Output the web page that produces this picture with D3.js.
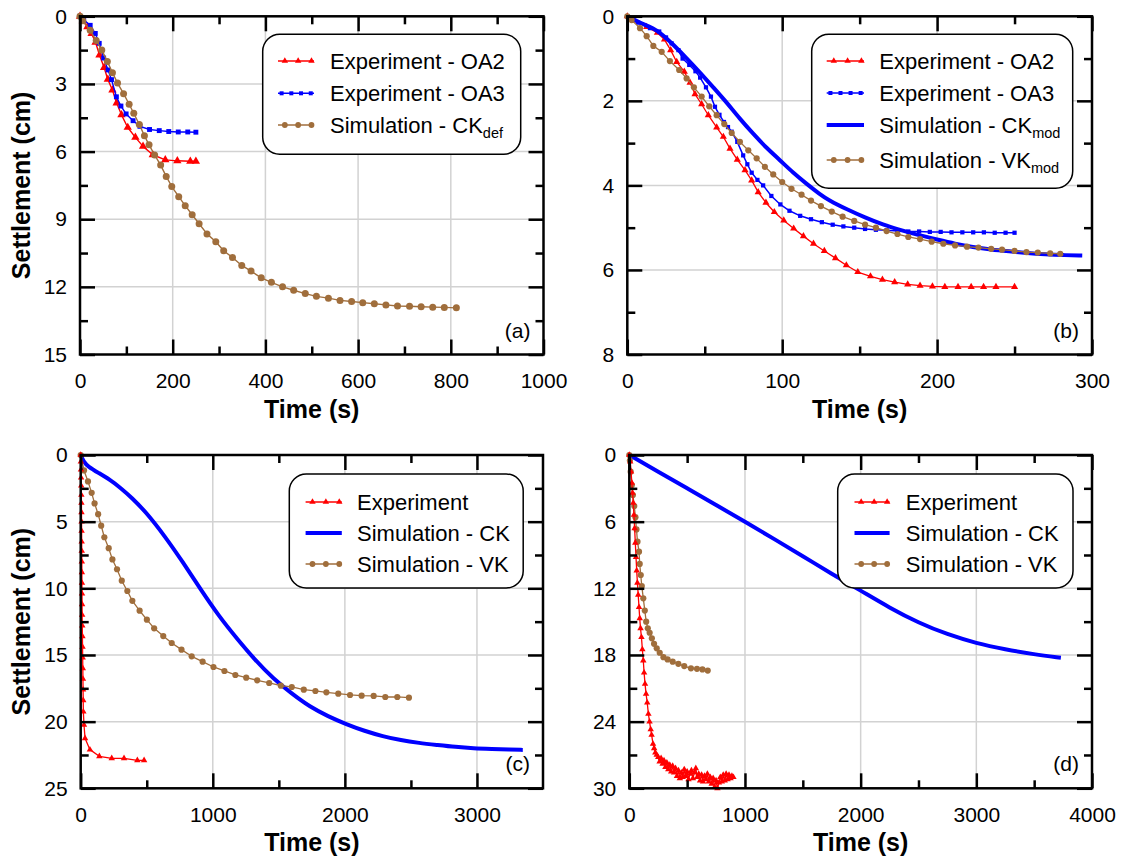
<!DOCTYPE html>
<html><head><meta charset="utf-8">
<script src="https://cdn.jsdelivr.net/npm/d3@7"></script>
<style>body{margin:0;background:#fff}svg{display:block}</style>
</head><body>
<svg id="chart" width="1122" height="859"></svg>
<script>
// ---------------- DATA ----------------
// Panel (a)
const a_OA2 = [[0,0],[6,0.2],[16,0.47],[25,0.77],[33.5,1.15],[42,1.72],[52,2.27],[60,2.8],[70,3.27],[79,3.85],[89.5,4.37],[103,4.93],[119.5,5.37],[136,5.77],[157,6.14],[184,6.37],[210,6.41],[238,6.43],[250,6.43]];
const a_OA3 = [[0,0],[8,0.15],[22,0.4],[33,0.76],[41.5,1.2],[51,1.85],[60.5,2.38],[68,2.81],[78.5,3.57],[88.3,3.98],[99.5,4.33],[114.5,4.63],[129.3,4.88],[150,5.02],[171,5.07],[191.5,5.11],[212,5.13],[232.5,5.13],[250,5.14]];
const a_CKdef = [[0,0],[6,0.2],[22,0.62],[35,1.07],[47,1.5],[59,2.0],[70,2.5],[81,2.96],[94,3.43],[106,3.9],[116,4.3],[128,4.8],[139,5.3],[149,5.7],[161,6.15],[174,6.6],[186,7.1],[198,7.55],[213,8.0],[227,8.4],[242,8.8],[257,9.2],[274,9.65],[293,10.0],[310,10.4],[329,10.7],[349,11.05],[369,11.3],[391,11.6],[413,11.8],[437,12.0],[461,12.15],[486,12.3],[510,12.42],[536,12.5],[561,12.6],[586,12.65],[610,12.7],[635,12.75],[660,12.8],[685,12.85],[711,12.86],[736,12.88],[761,12.9],[786,12.91],[812,12.93]];
// Panel (b)
const b_OA2 = [[0,0],[3.9,0.1],[12.5,0.25],[19.4,0.39],[24,0.55],[28,0.8],[31.9,1.08],[36.8,1.31],[40.5,1.57],[43.7,1.84],[48,2.08],[52.3,2.34],[57.7,2.63],[62,2.85],[66.3,3.13],[71,3.39],[76,3.64],[80.3,3.88],[84.5,4.16],[89.5,4.41],[94.9,4.63],[101,4.83],[107.4,5.02],[113.7,5.2],[120.2,5.38],[127.2,5.55],[134.4,5.72],[141.4,5.89],[148.8,6.05],[157,6.15],[164.7,6.23],[172.6,6.29],[181,6.34],[189,6.37],[197,6.39],[205,6.4],[213.5,6.4],[222,6.4],[230,6.4],[238,6.4],[250,6.4]];
const b_OA3 = [[0,0],[7,0.15],[14.6,0.28],[20.6,0.36],[25,0.5],[28.6,0.64],[33,0.8],[35.7,1.0],[40,1.15],[44,1.3],[47,1.45],[50.8,1.68],[54,1.9],[56.6,2.14],[59.5,2.33],[62.4,2.5],[65,2.62],[67.4,2.73],[71,2.97],[74.8,3.29],[77.5,3.5],[80.3,3.7],[84,3.87],[87.7,4.0],[93,4.25],[98.8,4.45],[104.7,4.6],[111.6,4.72],[118.6,4.8],[125.6,4.87],[132.6,4.93],[139.5,4.97],[146.5,5.0],[153.5,5.03],[160.5,5.05],[167.4,5.06],[174.4,5.08],[181.4,5.09],[188.4,5.09],[195.3,5.1],[202.3,5.1],[209.3,5.11],[216.3,5.11],[223.3,5.11],[230.2,5.11],[237.2,5.12],[244.2,5.12],[250,5.12]];
const b_CKmod = [[0,0],[8,0.15],[16.8,0.28],[23,0.44],[30,0.68],[38,0.98],[47,1.33],[55.5,1.68],[64,2.03],[72.5,2.42],[81.3,2.78],[90,3.12],[98.5,3.4],[107,3.7],[116,3.97],[124,4.2],[130,4.35],[141.9,4.57],[153.5,4.76],[165,4.93],[176.7,5.06],[188.4,5.18],[200,5.28],[211.6,5.38],[223,5.46],[235,5.52],[246.5,5.56],[258,5.6],[270,5.63],[281.4,5.65],[293.7,5.66]];
const b_VKmod = [[0,0],[2.8,0.09],[8.2,0.28],[12.5,0.47],[16.8,0.7],[22.2,0.84],[27.5,1.06],[33.5,1.27],[38.3,1.47],[43,1.68],[48,1.9],[52.9,2.13],[57.7,2.34],[62.6,2.55],[67.4,2.76],[72.7,2.97],[78.1,3.17],[83.5,3.36],[88.8,3.56],[94.2,3.74],[100,3.92],[106,4.08],[112.5,4.22],[118.6,4.36],[125,4.49],[132,4.62],[139,4.74],[146.5,4.84],[153.5,4.93],[160.5,5.0],[167.4,5.08],[174.4,5.15],[181.4,5.22],[189,5.27],[196.5,5.33],[204,5.38],[211.6,5.42],[219.3,5.45],[226.7,5.47],[234.9,5.5],[241.9,5.52],[250,5.55],[257.7,5.58],[265,5.59],[273,5.61],[279.5,5.62]];
// Panel (c)
const c_Exp = [[0,0],[1,0.5],[2,1.1],[3,1.7],[4,2.3],[5,3.0],[5.5,3.6],[6,4.3],[6.5,5.0],[7,5.7],[7.5,6.5],[8,7.2],[8.5,8.0],[9,8.8],[9.5,9.6],[10,10.4],[10.5,11.2],[11,12.0],[12,12.8],[13,13.6],[14,14.4],[15,15.2],[16,16.0],[17,16.8],[18,17.6],[19,18.4],[20,19.25],[25,20.25],[33,21.25],[70,22.1],[141,22.6],[235,22.75],[328,22.75],[429,22.9],[480,22.9]];
const c_CK = [[0,0],[22,0.5],[55,0.86],[138,1.36],[220,1.85],[303,2.47],[386,3.2],[496,4.3],[634,6.05],[771,8.0],[909,10.1],[1047,12.1],[1185,13.8],[1322,15.4],[1460,16.8],[1598,17.9],[1736,18.9],[1873,19.6],[2011,20.2],[2149,20.7],[2287,21.1],[2424,21.4],[2562,21.6],[2700,21.75],[2837,21.9],[2975,22.0],[3113,22.05],[3251,22.1],[3347,22.12]];
const c_VK = [[0,0],[25,1.16],[55,1.98],[83,2.84],[105,3.63],[132,4.44],[155,5.3],[179,6.17],[212,6.99],[240,7.83],[275,8.57],[311,9.43],[353,10.2],[391,10.94],[446,11.68],[501,12.35],[556,13.0],[625,13.58],[689,14.1],[763,14.6],[840,15.1],[923,15.5],[1005,15.9],[1088,16.2],[1171,16.5],[1253,16.7],[1336,16.9],[1427,17.1],[1515,17.3],[1598,17.4],[1689,17.6],[1777,17.7],[1860,17.8],[1950,17.9],[2039,18.0],[2127,18.05],[2218,18.07],[2306,18.15],[2397,18.15],[2485,18.2]];
// Panel (d)
const d_Exp = [[0,0],[8,0.6],[15,1.5],[22,2.5],[28,3.4],[34,4.3],[40,5.4],[46,6.6],[52,7.9],[58,9.2],[64,10.4],[70,11.5],[77,12.6],[84,13.7],[90,14.7],[97,15.6],[105,16.4],[113,17.5],[121,18.5],[128,19.6],[136,20.6],[145,21.5],[155,22.3],[165,23.3],[175,24.0],[185,24.7],[193,25.2],[205,26.0],[215,26.4],[225,26.8],[237,27.0],[250,27.2],[262,27.6],[275,27.3],[288,27.8],[300,27.5],[312,28.1],[325,27.7],[337,28.3],[350,27.9],[362,28.5],[375,28.0],[387,28.6],[400,28.2],[412,28.9],[425,28.4],[437,29.1],[450,28.6],[462,29.0],[475,28.3],[487,28.9],[500,28.5],[512,29.2],[525,28.7],[537,28.4],[550,29.1],[562,28.6],[575,28.2],[587,29.0],[600,28.7],[612,29.3],[625,28.8],[637,29.4],[650,28.9],[662,29.2],[675,28.7],[687,29.4],[700,29.0],[712,29.6],[725,29.1],[737,29.9],[750,29.3],[762,30.0],[775,29.5],[787,29.0],[800,29.4],[812,28.8],[825,29.3],[837,28.7],[850,29.2],[862,28.8],[875,29.1],[887,28.9],[900,29.0]];
const d_CK = [[0,0],[250,1.5],[500,3.0],[750,4.5],[1000,6.0],[1250,7.55],[1500,9.1],[1750,10.7],[2000,12.2],[2250,13.75],[2500,15.1],[2750,16.15],[3000,16.95],[3250,17.5],[3500,17.95],[3731,18.25]];
const d_VK = [[0,0],[5,0.5],[12,1.5],[22,2.7],[31,3.6],[43,4.6],[53,5.6],[62,6.7],[71,7.8],[84,8.7],[90,9.8],[99,10.8],[108,11.8],[121,12.9],[134,14.0],[146,15.0],[160,15.6],[176,16.0],[195,16.5],[214,17.0],[237,17.4],[263,17.8],[295,18.2],[331,18.4],[375,18.6],[424,18.8],[475,19.0],[533,19.2],[585,19.25],[632,19.3],[678,19.4]];

// Tick values
const aXTicks = [0,200,400,600,800,1000], aXMinor = [100,300,500,700,900];
const aYTicks = [0,3,6,9,12,15], aYMinor = [1.5,4.5,7.5,10.5,13.5];
const bXTicks = [0,100,200,300], bXMinor = [50,150,250];
const bYTicks = [0,2,4,6,8], bYMinor = [1,3,5,7];
const cXTicks = [0,1000,2000,3000], cXMinor = [500,1500,2500];
const cYTicks = [0,5,10,15,20,25], cYMinor = [2.5,7.5,12.5,17.5,22.5];
const dXTicks = [0,1000,2000,3000,4000], dXMinor = [500,1500,2500,3500];
const dYTicks = [0,6,12,18,24,30], dYMinor = [3,9,15,21,27];

// ---------------- STYLE ----------------
const RED = '#ff0000', BLUE = '#0000ff', BROWN = '#a06e3c';
const FONT = 'Arial, "Liberation Sans", sans-serif';
const svg = d3.select('#chart');

const panels = [
  { tag:'(a)', left:80, right:543.5, top:16.3, bottom:354.5, xDom:[0,1000], yDom:[0,15],
    xT:aXTicks, xM:aXMinor, yT:aYTicks, yM:aYMinor, ytitle:true,
    series:[
      {data:a_OA2, color:RED, mk:'tri', ms:30, lw:1.4},
      {data:a_OA3, color:BLUE, mk:'sq', ms:24, lw:1.4},
      {data:a_CKdef, color:BROWN, mk:'circ', ms:3.5, lw:1.4}
    ],
    legend:{box:[262.7,34.3,520.7,154.3], rows:[61,93.3,125], lx:[278,314], tx:330,
      items:[{s:0,t:'Experiment - OA2'},{s:1,t:'Experiment - OA3'},{s:2,t:'Simulation - CK',sub:'def'}]}
  },
  { tag:'(b)', left:627.3, right:1092, top:16.3, bottom:354.5, xDom:[0,300], yDom:[0,8],
    xT:bXTicks, xM:bXMinor, yT:bYTicks, yM:bYMinor, ytitle:false,
    series:[
      {data:b_OA2, color:RED, mk:'tri', ms:22, lw:1.3},
      {data:b_OA3, color:BLUE, mk:'sq', ms:18, lw:1.5},
      {data:b_CKmod, color:BLUE, mk:null, lw:4, smooth:true},
      {data:b_VKmod, color:BROWN, mk:'circ', ms:3.1, lw:1.3}
    ],
    legend:{box:[811.7,34.3,1072.7,188.3], rows:[61,93,125,160], lx:[826.7,864], tx:879.3,
      items:[{s:0,t:'Experiment - OA2'},{s:1,t:'Experiment - OA3'},{s:2,t:'Simulation - CK',sub:'mod'},{s:3,t:'Simulation - VK',sub:'mod'}]}
  },
  { tag:'(c)', left:80.7, right:543, top:455, bottom:788.3, xDom:[0,3500], yDom:[0,25],
    xT:cXTicks, xM:cXMinor, yT:cYTicks, yM:cYMinor, ytitle:true,
    series:[
      {data:c_CK, color:BLUE, mk:null, lw:4, smooth:true},
      {data:c_VK, color:BROWN, mk:'circ', ms:3.1, lw:1.3},
      {data:c_Exp, color:RED, mk:'tri', ms:18, lw:1.3}
    ],
    legend:{box:[289.3,474,523.2,588], rows:[502,533,564], lx:[305.6,341.8], tx:357,
      items:[{s:2,t:'Experiment'},{s:0,t:'Simulation - CK'},{s:1,t:'Simulation - VK'}]}
  },
  { tag:'(d)', left:629.3, right:1092, top:455, bottom:788.3, xDom:[0,4000], yDom:[0,30],
    xT:dXTicks, xM:dXMinor, yT:dYTicks, yM:dYMinor, ytitle:false,
    series:[
      {data:d_CK, color:BLUE, mk:null, lw:4, smooth:true},
      {data:d_VK, color:BROWN, mk:'circ', ms:3.1, lw:1.3},
      {data:d_Exp, color:RED, mk:'tri', ms:18, lw:1.3}
    ],
    legend:{box:[837.7,474,1073,588], rows:[502,533,564], lx:[854.5,889.6], tx:905.8,
      items:[{s:2,t:'Experiment'},{s:0,t:'Simulation - CK'},{s:1,t:'Simulation - VK'}]}
  }
];

function marker(g, s, pts, color, size){
  if (s.mk === 'circ') {
    g.selectAll(null).data(pts).join('circle')
      .attr('cx', d => d[0]).attr('cy', d => d[1]).attr('r', size).attr('fill', color);
  } else {
    const sym = d3.symbol().type(s.mk === 'tri' ? d3.symbolTriangle : d3.symbolSquare).size(size)();
    g.selectAll(null).data(pts).join('path')
      .attr('transform', d => `translate(${d[0]},${d[1]})`).attr('d', sym).attr('fill', color);
  }
}

panels.forEach(p => {
  const x = d3.scaleLinear().domain(p.xDom).range([p.left, p.right]);
  const y = d3.scaleLinear().domain(p.yDom).range([p.top, p.bottom]);
  const g = svg.append('g');

  // grid
  g.selectAll(null).data(p.xT.filter(v => v > p.xDom[0] && v < p.xDom[1])).join('line')
    .attr('x1', d => x(d)).attr('x2', d => x(d)).attr('y1', p.top).attr('y2', p.bottom)
    .attr('stroke', '#d2d2d2').attr('stroke-width', 1.5);
  g.selectAll(null).data(p.yT.filter(v => v > p.yDom[0] && v < p.yDom[1])).join('line')
    .attr('y1', d => y(d)).attr('y2', d => y(d)).attr('x1', p.left).attr('x2', p.right)
    .attr('stroke', '#d2d2d2').attr('stroke-width', 1.5);

  // series
  p.series.forEach(s => {
    const line = d3.line().x(d => x(d[0])).y(d => y(d[1]))
      .curve(s.smooth ? d3.curveBasis : d3.curveLinear);
    g.append('path').attr('d', line(s.data)).attr('fill', 'none')
      .attr('stroke', s.color).attr('stroke-width', s.lw).attr('stroke-linejoin', 'round');
    if (s.mk) marker(g, s, s.data.map(d => [x(d[0]), y(d[1])]), s.color, s.ms);
  });

  // legend
  const L = p.legend;
  g.append('rect').attr('x', L.box[0]).attr('y', L.box[1])
    .attr('width', L.box[2] - L.box[0]).attr('height', L.box[3] - L.box[1])
    .attr('rx', 17).attr('ry', 17).attr('fill', '#fff').attr('stroke', '#000').attr('stroke-width', 1.5);
  L.items.forEach((it, i) => {
    const s = p.series[it.s], ry = L.rows[i];
    g.append('line').attr('x1', L.lx[0]).attr('x2', L.lx[1]).attr('y1', ry).attr('y2', ry)
      .attr('stroke', s.color).attr('stroke-width', s.mk ? 1.4 : 4);
    if (s.mk) {
      const w = L.lx[1] - L.lx[0];
      const fr = s.mk === 'sq' ? [0.1, 0.37, 0.64, 0.91] : [0.19, 0.56, 0.93];
      const sz = s.mk === 'circ' ? 2.9 : (s.mk === 'sq' ? 16 : 18);
      marker(g, s, fr.map(f => [L.lx[0] + f * w, ry]), s.color, sz);
    }
    const t = g.append('text').attr('x', L.tx).attr('y', ry + 7.8)
      .attr('font-family', FONT).attr('font-size', 22).attr('fill', '#000').text(it.t);
    if (it.sub) t.append('tspan').attr('font-size', 14.5).attr('dy', 5).text(it.sub);
  });

  // axes (ticks inward, all four sides)
  const axG = (axis, tr) => {
    const a = g.append('g').attr('transform', tr).call(axis);
    a.select('.domain').remove();
    a.selectAll('line').attr('stroke', '#000').attr('stroke-width', 2.5);
    a.selectAll('text').attr('font-family', FONT).attr('font-size', 21).attr('fill', '#000');
    return a;
  };
  axG(d3.axisBottom(x).tickValues(p.xT).tickSize(-15).tickPadding(19).tickFormat(d3.format('d')), `translate(0,${p.bottom})`);
  axG(d3.axisBottom(x).tickValues(p.xM).tickSize(-8).tickFormat(''), `translate(0,${p.bottom})`);
  axG(d3.axisTop(x).tickValues(p.xT).tickSize(-15).tickFormat(''), `translate(0,${p.top})`);
  axG(d3.axisTop(x).tickValues(p.xM).tickSize(-8).tickFormat(''), `translate(0,${p.top})`);
  axG(d3.axisLeft(y).tickValues(p.yT).tickSize(-15).tickPadding(13).tickFormat(d3.format('d')), `translate(${p.left},0)`);
  axG(d3.axisLeft(y).tickValues(p.yM).tickSize(-8).tickFormat(''), `translate(${p.left},0)`);
  axG(d3.axisRight(y).tickValues(p.yT).tickSize(-15).tickFormat(''), `translate(${p.right},0)`);
  axG(d3.axisRight(y).tickValues(p.yM).tickSize(-8).tickFormat(''), `translate(${p.right},0)`);

  // frame
  g.append('rect').attr('x', p.left).attr('y', p.top)
    .attr('width', p.right - p.left).attr('height', p.bottom - p.top)
    .attr('fill', 'none').attr('stroke', '#000').attr('stroke-width', 2.5);

  // titles
  g.append('text').attr('x', (p.left + p.right) / 2).attr('y', p.bottom + 63)
    .attr('text-anchor', 'middle').attr('font-family', FONT).attr('font-weight', 'bold')
    .attr('font-size', 25).text('Time (s)');
  if (p.ytitle) {
    g.append('text').attr('transform', `translate(30,${(p.top + p.bottom) / 2}) rotate(-90)`)
      .attr('text-anchor', 'middle').attr('font-family', FONT).attr('font-weight', 'bold')
      .attr('font-size', 25).text('Settlement (cm)');
  }
  g.append('text').attr('x', p.right - 13).attr('y', p.bottom - 17).attr('text-anchor', 'end')
    .attr('font-family', FONT).attr('font-size', 21).text(p.tag);
});
</script>
</body></html>
